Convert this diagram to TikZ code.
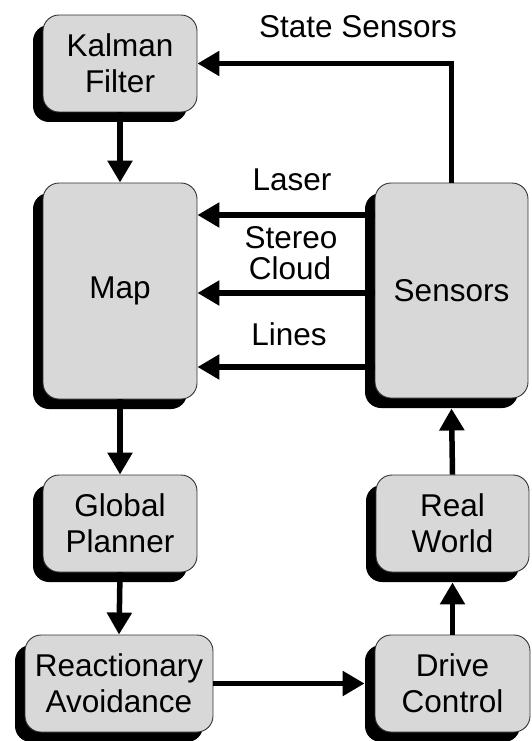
\documentclass[tikz,border=0pt]{standalone}
\usepackage{fontspec}
\setmainfont{Liberation Sans}
\usetikzlibrary{arrows.meta,shadows}
\definecolor{boxgray}{HTML}{D8D8D8}
\definecolor{edgegray}{HTML}{333333}
\tikzset{
  block/.style={draw=edgegray, line width=0.9pt, fill=boxgray, rounded corners=16pt,
    align=center, inner sep=2pt, font=\fontsize{31.5}{36}\selectfont,
    drop shadow={shadow xshift=-10pt, shadow yshift=-10pt, fill=black, opacity=1}},
  conn/.style={line width=5.5pt, -{Triangle[length=22pt,width=24pt]}},
  lbl/.style={font=\fontsize{31.5}{32}\selectfont, inner sep=0pt}
}
\begin{document}
\begin{tikzpicture}[x=1pt,y=-1pt]
  \useasboundingbox (0,0) rectangle (532,741);

  % processing blocks
  \node[block, minimum width=154pt, minimum height=97pt]  (kalman)  at (120,63.5)  {Kalman\\Filter};
  \node[block, minimum width=154pt, minimum height=216pt] (map)     at (120,291)   {Map};
  \node[block, minimum width=153pt, minimum height=215pt] (sensors) at (451.5,290.5) {Sensors};
  \node[block, minimum width=154pt, minimum height=97pt]  (global)  at (120,523.5) {Global\\Planner};
  \node[block, minimum width=153pt, minimum height=97pt]  (world)   at (452.5,523.5) {Real\\World};
  \node[block, minimum width=188pt, minimum height=97pt]  (react)   at (119,683.5) {Reactionary\\Avoidance};
  \node[block, minimum width=155pt, minimum height=97pt]  (drive)   at (452.5,683.5) {Drive\\Control};

  % sensor data rows
  \coordinate (laser)  at (0,215);
  \coordinate (stereo) at (0,293);
  \coordinate (lines)  at (0,367);

  % connectors
  \draw[conn] (kalman.south) -- (map.north);
  \draw[conn] (map.south) -- (global.north);
  \draw[conn] (global.south) -- (react.north);
  \draw[conn] (react.east) -- ([xshift=-10pt]drive.west);
  \draw[conn] (drive.north) -- ([yshift=-10pt]world.south);
  \draw[conn] (world.north) -- ([yshift=-10pt]sensors.south);
  \draw[conn] (sensors.north) |- (kalman.east);
  \draw[conn] (sensors.west |- laser)  -- (map.east |- laser);
  \draw[conn] (sensors.west |- stereo) -- (map.east |- stereo);
  \draw[conn] (sensors.west |- lines)  -- (map.east |- lines);

  % connector labels
  \node[lbl] (lstate)  at (358,27)  {State Sensors};
  \node[lbl] (llaser)  at (292,180) {Laser};
  \node[lbl] (lstereo) at (291,238) {Stereo};
  \node[lbl] (lcloud)  at (290,268) {Cloud};
  \node[lbl] (llines)  at (289,334) {Lines};
\end{tikzpicture}
\end{document}
